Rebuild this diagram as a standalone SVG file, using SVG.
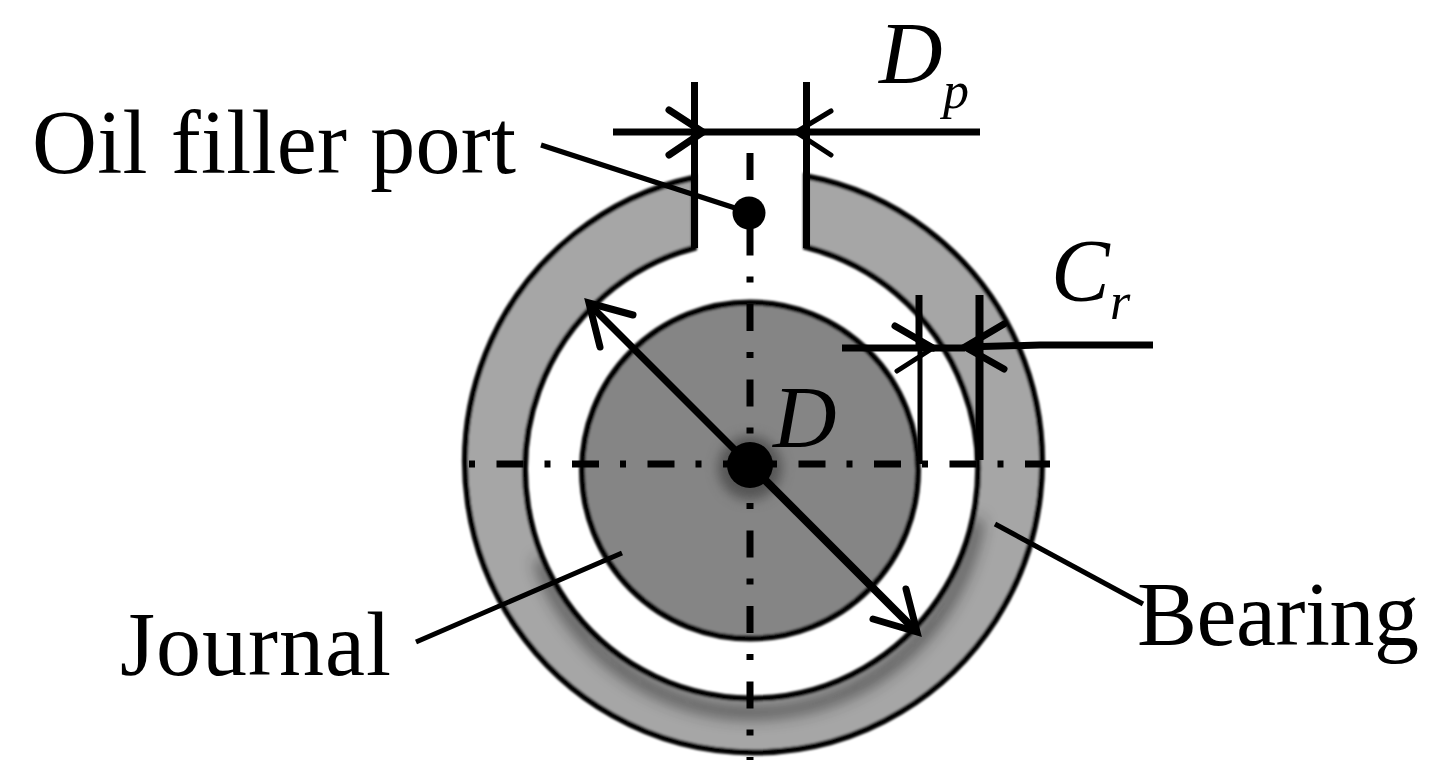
<svg xmlns="http://www.w3.org/2000/svg" width="1438" height="778" viewBox="0 0 1438 778">
  <style>
    .ln{fill:none;stroke:#000;stroke-width:7}
    .thick{fill:none;stroke:#000;stroke-width:8}
    .thin{fill:none;stroke:#000;stroke-width:5}
    .head{fill:none;stroke:#000;stroke-width:7;stroke-linecap:round;stroke-linejoin:miter}
    .cl{fill:none;stroke:#000;stroke-width:7;stroke-dasharray:27 21 6 21.5}
    .lbl{font-family:"Liberation Serif","Times New Roman",serif;font-size:90px;fill:#000}
    .sym{font-family:"Liberation Serif","Times New Roman",serif;font-style:italic;font-size:88px;fill:#000}
    .sub{font-family:"Liberation Serif","Times New Roman",serif;font-style:italic;font-size:52px;fill:#000}
  </style>
  <defs>
    <filter id="soft" x="-5%" y="-5%" width="110%" height="110%"><feGaussianBlur stdDeviation="0.8"/></filter>
    <filter id="shade" x="-20%" y="-20%" width="140%" height="140%"><feGaussianBlur stdDeviation="8"/></filter>
    <filter id="glow" x="-50%" y="-50%" width="200%" height="200%"><feGaussianBlur stdDeviation="6"/></filter>
    <clipPath id="ring"><path d="M806 176.300A288.500 290.500 0 1 1 694 177.700V248A226.500 229 0 1 0 806 247.200Z"/></clipPath>
  </defs>
  <rect width="1438" height="778" fill="#fff"/>

  <g id="bearing" filter="url(#soft)">
    <path d="M806 176.300A288.500 290.500 0 1 1 694 177.700V248A226.500 229 0 1 0 806 247.200Z" fill="#a6a6a6"/>
    <g clip-path="url(#ring)">
      <path d="M977 520A226.500 229 0 0 1 540 560" fill="none" stroke="#333" stroke-width="9" filter="url(#shade)"/>
    </g>
    <path d="M806 176.300A288.500 290.500 0 1 1 694 177.700V248A226.500 229 0 1 0 806 247.200Z" fill="none" stroke="#000" stroke-width="6"/>
  </g>

  <g id="journal" filter="url(#soft)">
    <circle cx="750" cy="470.500" r="168" fill="#858585" stroke="#000" stroke-width="6"/>
    <circle cx="750" cy="468" r="32" fill="#555" filter="url(#glow)"/>
  </g>

  <g id="connectors">
    <path class="cl" d="M750 153V760"/>
    <path class="cl" stroke-dashoffset="48" d="M469 464H1050"/>

    <path class="ln" d="M694.500 82V248M806.500 82V248"/>
    <path class="ln" d="M613 132H980"/>
    <path class="head" d="M669 110L703 132L669 155"/>
    <path class="thin" stroke-linecap="round" d="M831 111L796 132L831 155"/>

    <path class="ln" d="M919 295V345"/>
    <path class="thin" d="M920 345V464"/>
    <path class="thick" d="M979.500 295V460"/>
    <path class="ln" d="M842 348H965"/>
    <path class="ln" d="M965 347L1040 345H1153"/>
    <path class="head" d="M895 326L933 348"/>
    <path class="thin" stroke-linecap="round" d="M897 371L933 348"/>
    <path class="head" d="M1004 324L965 347L1004 369"/>

    <path class="ln" d="M749 464L592 307"/>
    <path class="thick" d="M749 464L914 629"/>
    <path class="head" d="M633 315L589 303L600 347"/>
    <path class="head" d="M873 619L917 632L906 589"/>

    <path class="thin" d="M541 145L735 208"/>
    <circle cx="749" cy="213" r="16.500" fill="#000"/>
    <circle cx="750" cy="465" r="23" fill="#000"/>
    <path class="thin" d="M416 642L622 553"/>
    <path class="thin" d="M995 524L1143 604"/>
  </g>

  <g id="labels">
    <text class="lbl" x="32" y="173" textLength="484">Oil filler port</text>
    <text class="lbl" x="120" y="675" textLength="271">Journal</text>
    <text class="lbl" x="1137" y="645" textLength="282">Bearing</text>
    <text class="sym" x="879" y="83">D</text>
    <text class="sub" x="943" y="108">p</text>
    <text class="sym" x="1051" y="300">C</text>
    <text class="sub" x="1110" y="319">r</text>
    <text class="sym" x="773" y="447">D</text>
  </g>
</svg>
